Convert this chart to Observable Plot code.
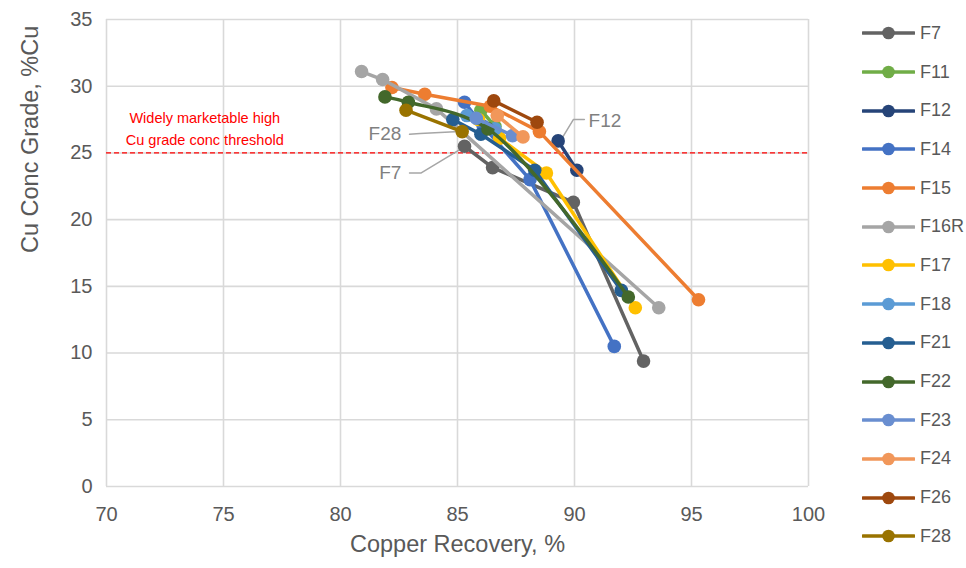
<!DOCTYPE html>
<html><head><meta charset="utf-8">
<script src="https://cdn.jsdelivr.net/npm/d3@7"></script>
<script src="https://cdn.jsdelivr.net/npm/@observablehq/plot@0.6"></script>
<style>
body{margin:0;background:#fff;font-family:"Liberation Sans",Arial,sans-serif;}
#wrap{position:relative;width:966px;height:568px;overflow:hidden;}
#legend{position:absolute;left:862px;top:14px;}
.item{height:38.7px;display:flex;align-items:center;font-size:18px;color:#595959;}
.item svg{margin-right:5px;}
</style></head><body><div id="wrap"><div id="chart"></div><div id="legend"></div></div>
<script>
// ---- data ----
const names = ["F7","F11","F12","F14","F15","F16R","F17","F18","F21","F22","F23","F24","F26","F28"];
const colors = ["#636363","#70AD47","#264478","#4472C4","#ED7D31","#A5A5A5","#FFC000","#5B9BD5","#255E91","#43682B","#698ED0","#F1975A","#9E480E","#997300"];
// [Copper Recovery %, Cu Conc Grade %Cu]
const F7   = [[85.3,25.5],[86.5,23.9],[89.95,21.3],[92.95,9.4]];
const F11  = [[86.0,28.2],[86.6,27.0]];
const F12  = [[89.3,25.9],[90.1,23.7]];
const F14  = [[85.3,28.8],[86.1,27.0],[88.1,23.0],[91.7,10.5]];
const F15  = [[82.2,29.9],[83.6,29.4],[86.4,28.5],[88.5,26.6],[95.3,14.0]];
const F16R = [[80.9,31.1],[81.8,30.5],[84.1,28.3],[93.6,13.4]];
const F17  = [[85.9,27.5],[86.8,26.1],[88.8,23.5],[92.6,13.4]];
const F18  = [[85.4,27.8],[86.6,26.8]];
const F21  = [[84.8,27.5],[86.0,26.4],[88.3,23.7],[92.0,14.7]];
const F22  = [[81.9,29.2],[82.9,28.8],[86.3,26.8],[92.3,14.2]];
const F23  = [[85.8,27.6],[87.35,26.3]];
const F24  = [[86.7,27.8],[87.8,26.2]];
const F26  = [[86.55,28.9],[88.4,27.3]];
const F28  = [[82.8,28.2],[85.2,26.6]];
const seriesPoints = [F7,F11,F12,F14,F15,F16R,F17,F18,F21,F22,F23,F24,F26,F28];
const smoothed = ["F22"];

const xTicks = [70,75,80,85,90,95,100];
const yTicks = [0,5,10,15,20,25,30,35];
const threshold = 25;
const thresholdText = ["Widely marketable high\nCu grade conc threshold"];
const thresholdTextPos = [74.2, 26.95];
const calloutNames = ["F28","F7","F12"];
const calloutTextPos = [[82.6,26.4],[82.6,23.5],[90.6,27.4]];
const calloutLines = [
  [[82.95,26.4],[83.4,26.45],[85.1,26.6]],
  [[82.95,23.5],[83.45,23.5],[85.15,25.3]],
  [[90.42,27.5],[89.95,27.5],[89.45,26.05]]
];

// ---- chart ----
const marks = [
  Plot.gridX(xTicks, {stroke:"#d9d9d9", strokeOpacity:1, strokeWidth:1.6}),
  Plot.gridY(yTicks, {stroke:"#d9d9d9", strokeOpacity:1, strokeWidth:1.6}),
  Plot.axisX(xTicks, {tickSize:0, tickPadding:20, fontSize:20, label:null}),
  Plot.axisY(yTicks, {tickSize:0, tickPadding:14, fontSize:20, label:null}),
  Plot.text(["Copper Recovery, %"], {frameAnchor:"bottom", dy:65, fontSize:23.5, fill:"#595959"}),
  Plot.text(["Cu Conc Grade, %Cu"], {frameAnchor:"left", dx:-76, rotate:-90, fontSize:23.5, fill:"#595959"}),
  Plot.ruleY([threshold], {stroke:"#ff0000", strokeWidth:1.3, strokeDasharray:"5,3"}),
  Plot.text(thresholdText, {x:()=>thresholdTextPos[0], y:()=>thresholdTextPos[1], fill:"#ff0000", fontSize:14.5, lineHeight:1.5}),
];
calloutLines.forEach(pts => marks.push(Plot.line(pts, {x:d=>d[0], y:d=>d[1], stroke:"#a6a6a6", strokeWidth:1.5})));
marks.push(Plot.text(calloutNames.slice(0,2), {x:(d,i)=>calloutTextPos[i][0], y:(d,i)=>calloutTextPos[i][1], textAnchor:"end", fill:"#808080", fontSize:19}));
marks.push(Plot.text(calloutNames.slice(2), {x:(d,i)=>calloutTextPos[i+2][0], y:(d,i)=>calloutTextPos[i+2][1], textAnchor:"start", fill:"#808080", fontSize:19}));

names.forEach((n,i) => {
  const pts = seriesPoints[i].map(p => ({series:n, x:p[0], y:p[1]}));
  marks.push(Plot.line(pts, {x:"x", y:"y", stroke:"series", strokeWidth:3.5, strokeLinejoin:"round",
    curve: smoothed.includes(n) ? "catmull-rom" : "linear"}));
  marks.push(Plot.dot(pts, {x:"x", y:"y", fill:"series", r:6.8}));
});

const chart = Plot.plot({
  width: 840, height: 568,
  marginLeft: 106, marginRight: 32, marginTop: 19, marginBottom: 82,
  x: {domain:[70,100]},
  y: {domain:[0,35]},
  color: {domain:names, range:colors},
  style: {fontFamily:'"Liberation Sans", Arial, sans-serif', color:"#595959", background:"#fff", overflow:"visible"},
  marks
});
document.getElementById("chart").appendChild(chart);

const legend = document.getElementById("legend");
names.forEach((n,i) => {
  const item = document.createElement("div");
  item.className = "item";
  item.innerHTML = `<svg width="53" height="16"><line x1="1" y1="8" x2="52" y2="8" stroke="${colors[i]}" stroke-width="3.5" stroke-linecap="round"/><circle cx="26.5" cy="8" r="6.3" fill="${colors[i]}"/></svg><span>${n}</span>`;
  legend.appendChild(item);
});
</script>
</body></html>
